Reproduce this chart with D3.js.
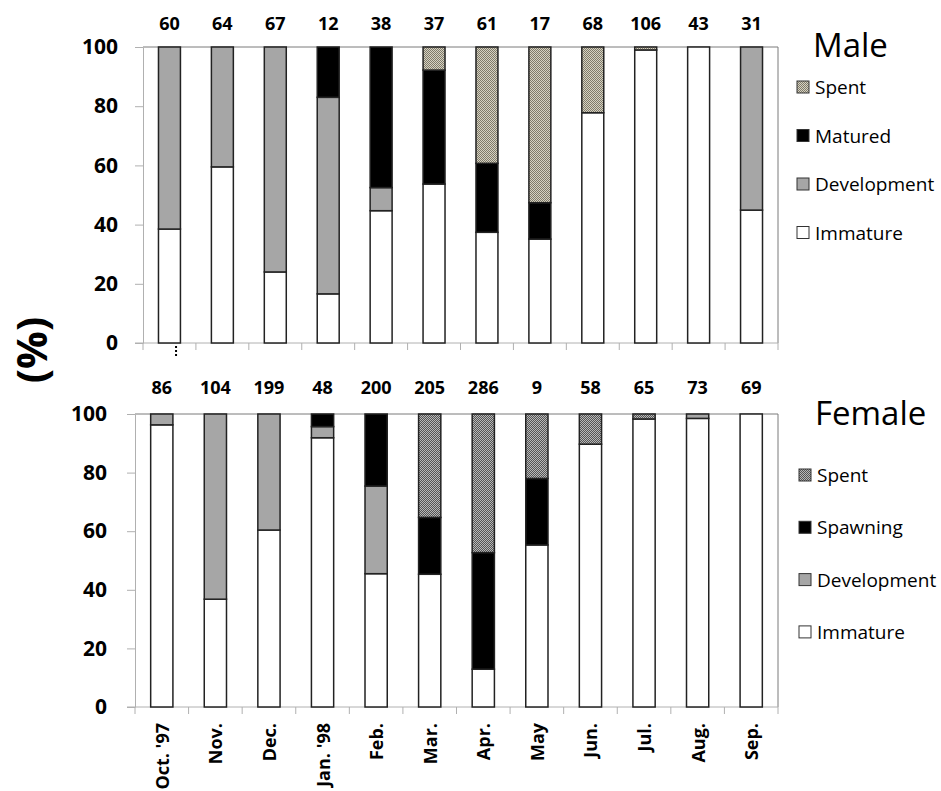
<!DOCTYPE html>
<html>
<head>
<meta charset="utf-8">
<script src="https://cdn.jsdelivr.net/npm/d3@7"></script>
<style>
  body { margin: 0; background: #fff; }
  text { font-family: "Open Sans", "Noto Sans", sans-serif; fill: #000; }
  .domain { stroke: #b0b0b0; }
  .tick line { stroke: #b0b0b0; }
</style>
</head>
<body>
<div id="chart-area"></div>
<script>
/*
*    gonad stages by month
*/

const months = ["Oct. '97", "Nov.", "Dec.", "Jan. '98", "Feb.", "Mar.", "Apr.", "May", "Jun.", "Jul.", "Aug.", "Sep."];
const yTicks = [0, 20, 40, 60, 80, 100];

// male
const maleN = [60, 64, 67, 12, 38, 37, 61, 17, 68, 106, 43, 31];
const maleImmature   = [38.5, 59.5, 24, 16.6, 44.7, 53.7, 37.4, 35.1, 77.8, 99, 100, 44.9];
const maleDevelopment = [61.5, 40.5, 76, 66.4, 7.8, 0, 0, 0, 0, 0, 0, 55.1];
const maleMatured    = [0, 0, 0, 17, 47.5, 38.5, 23.3, 12.3, 0, 0, 0, 0];
const maleSpent      = [0, 0, 0, 0, 0, 7.8, 39.3, 52.6, 22.2, 1, 0, 0];
const maleKeys = ["Immature", "Development", "Matured", "Spent"];

// female
const femaleN = [86, 104, 199, 48, 200, 205, 286, 9, 58, 65, 73, 69];
const femaleImmature   = [96.3, 36.8, 60.4, 91.9, 45.5, 45.3, 12.9, 55.3, 89.7, 98.3, 98.5, 100];
const femaleDevelopment = [3.7, 63.2, 39.6, 3.8, 29.9, 0, 0, 0, 0, 0, 1.5, 0];
const femaleSpawning   = [0, 0, 0, 4.3, 24.6, 19.4, 39.8, 22.7, 0, 0, 0, 0];
const femaleSpent      = [0, 0, 0, 0, 0, 35.3, 47.3, 22, 10.3, 1.7, 0, 0];
const femaleKeys = ["Immature", "Development", "Spawning", "Spent"];

const svg = d3.select("#chart-area")
  .append("svg")
    .attr("width", 941)
    .attr("height", 791);

// dotted fills for the spent stage
const defs = svg.append("defs");
function checker(id, light, dark) {
    const p = defs.append("pattern")
        .attr("id", id)
        .attr("width", 2)
        .attr("height", 2)
        .attr("patternUnits", "userSpaceOnUse");
    p.append("rect").attr("width", 2).attr("height", 2).attr("fill", light);
    p.append("rect").attr("width", 1).attr("height", 1).attr("fill", dark);
    p.append("rect").attr("x", 1).attr("y", 1).attr("width", 1).attr("height", 1).attr("fill", dark);
}
checker("spentMale", "#d6d2c2", "#7f7a6a");
checker("spentFemale", "#b8b8b8", "#555555");

svg.append("text")
    .attr("transform", "translate(47,350) rotate(-90)")
    .attr("text-anchor", "middle")
    .style("font-size", "42px")
    .style("font-weight", "bold")
    .text("(%)");

function drawPanel(cfg) {
    const m = cfg.margin;
    const width = 778 - m.left;
    const height = m.bottom - m.top;

    const g = svg.append("g")
        .attr("transform", `translate(${m.left},${m.top})`);

    const xScale = d3.scaleBand()
        .domain(months)
        .range([0, width])
        .paddingInner(0.585)
        .paddingOuter(0.2925);

    const yScale = d3.scaleLinear()
        .domain([0, 100])
        .range([height, 0]);

    const rows = months.map((mo, i) => {
        const r = { month: mo };
        cfg.keys.forEach((k, j) => { r[k] = cfg.series[j][i]; });
        return r;
    });
    const stacked = d3.stack().keys(cfg.keys)(rows);

    // plot frame (top and right)
    g.append("path")
        .attr("d", `M0,0H${width}V${height}`)
        .attr("fill", "none")
        .attr("stroke", "#7a7a7a")
        .attr("stroke-width", 1);

    const yAxis = g.append("g")
        .attr("class", "axis y-axis")
        .call(d3.axisLeft(yScale)
            .tickValues(yTicks)
            .tickSize(8)
            .tickSizeOuter(0)
            .tickPadding(cfg.yPad));
    yAxis.selectAll("text")
        .style("font-size", "21px")
        .style("font-weight", "bold");

    // band boundary ticks
    const xAxis = g.append("g")
        .attr("class", "axis x-axis")
        .attr("transform", `translate(0,${height})`);
    xAxis.append("line")
        .attr("class", "domain")
        .attr("x1", -8).attr("x2", width);
    xAxis.selectAll(".bound")
        .data(d3.range(months.length + 1))
        .enter().append("line")
            .attr("class", "bound")
            .attr("x1", i => i * xScale.step())
            .attr("x2", i => i * xScale.step())
            .attr("y1", 0)
            .attr("y2", 7)
            .attr("stroke", "#b0b0b0");

    if (cfg.showLabels) {
        xAxis.selectAll(".mlabel")
            .data(months)
            .enter().append("text")
                .attr("class", "mlabel")
                .attr("transform", d => `translate(${xScale(d) + xScale.bandwidth() / 2 + 7},16) rotate(-90)`)
                .attr("text-anchor", "end")
                .style("font-size", "18px")
                .style("font-weight", "bold")
                .text(d => d);
    }

    // stacked bars
    g.selectAll(".layer")
        .data(stacked)
        .enter().append("g")
            .attr("class", "layer")
            .attr("fill", d => cfg.colors[d.key])
        .selectAll("rect")
        .data(d => d.filter(s => s[1] - s[0] > 0))
        .enter().append("rect")
            .attr("x", d => xScale(d.data.month))
            .attr("width", xScale.bandwidth())
            .attr("y", d => yScale(d[1]))
            .attr("height", d => yScale(d[0]) - yScale(d[1]))
            .attr("stroke", "#222")
            .attr("stroke-width", 1.5);

    // sample sizes
    g.selectAll(".nlabel")
        .data(cfg.n)
        .enter().append("text")
            .attr("class", "nlabel")
            .attr("x", (d, i) => xScale(months[i]) + xScale.bandwidth() / 2)
            .attr("y", cfg.nY)
            .attr("text-anchor", "middle")
            .style("font-size", "18px")
            .style("font-weight", "bold")
            .text(d => d);

    // legend
    const lg = svg.append("g")
        .attr("transform", `translate(${cfg.legend.x},${cfg.legend.y})`);
    lg.append("text")
        .attr("x", 16)
        .attr("y", 0)
        .style("font-size", "33px")
        .text(cfg.title);
    const items = cfg.keys.slice().reverse();
    items.forEach((k, i) => {
        const row = lg.append("g")
            .attr("transform", `translate(0,${cfg.legend.first + i * cfg.legend.step})`);
        row.append("rect")
            .attr("x", 0)
            .attr("y", -6)
            .attr("width", 12)
            .attr("height", 12)
            .attr("fill", cfg.colors[k])
            .attr("stroke", "#333")
            .attr("stroke-width", 1);
        row.append("text")
            .attr("x", 18)
            .attr("y", 7)
            .style("font-size", "19px")
            .text(k);
    });

    return { g, xScale, yScale, height };
}

const male = drawPanel({
    margin: { top: 47, bottom: 343, left: 143 },
    keys: maleKeys,
    series: [maleImmature, maleDevelopment, maleMatured, maleSpent],
    colors: { Immature: "#ffffff", Development: "#a6a6a6", Matured: "#000000", Spent: "url(#spentMale)" },
    n: maleN,
    nY: -17,
    yPad: 17,
    showLabels: false,
    title: "Male",
    legend: { x: 797, y: 57, first: 30, step: 48.5 }
});

// small dotted mark under the first bar
male.g.append("line")
    .attr("x1", male.xScale(months[0]) + male.xScale.bandwidth() * 0.8)
    .attr("x2", male.xScale(months[0]) + male.xScale.bandwidth() * 0.8)
    .attr("y1", male.height + 3)
    .attr("y2", male.height + 13)
    .attr("stroke", "#000")
    .attr("stroke-width", 2)
    .attr("stroke-dasharray", "2,2");

drawPanel({
    margin: { top: 414, bottom: 707, left: 135 },
    keys: femaleKeys,
    series: [femaleImmature, femaleDevelopment, femaleSpawning, femaleSpent],
    colors: { Immature: "#ffffff", Development: "#a6a6a6", Spawning: "#000000", Spent: "url(#spentFemale)" },
    n: femaleN,
    nY: -20,
    yPad: 20,
    showLabels: true,
    title: "Female",
    legend: { x: 799, y: 425, first: 50, step: 52.3 }
});
</script>
</body>
</html>
